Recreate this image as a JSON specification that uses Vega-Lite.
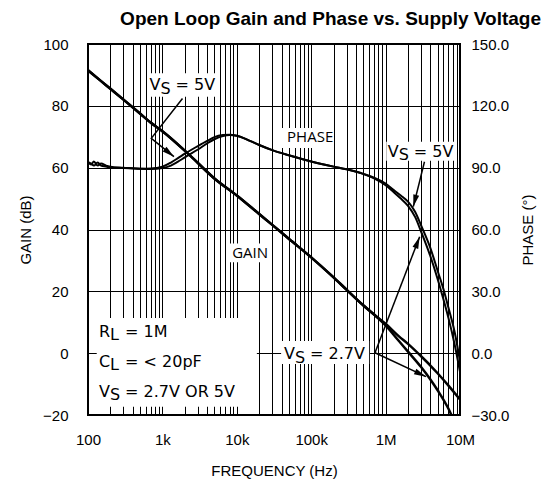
{
  "$schema": "https://vega.github.io/schema/vega-lite/v6.json",
  "width": 372,
  "height": 371,
  "autosize": "none",
  "padding": {"left": 88, "top": 44, "right": 95, "bottom": 68},
  "background": "white",
  "title": {"text": "Open Loop Gain and Phase vs. Supply Voltage", "font": "Liberation Sans", "fontSize": 19, "fontWeight": "bold", "anchor": "end", "frame": "group", "dx": 81, "offset": 8, "color": "black"},
  "config": {
    "view": {"stroke": "black", "strokeWidth": 2},
    "axis": {"labelFont": "Liberation Sans", "titleFont": "Liberation Sans", "labelFontSize": 15, "titleFontSize": 15, "titleFontWeight": "normal", "labelColor": "black", "titleColor": "black", "gridColor": "black", "gridOpacity": 1, "gridWidth": 1, "domain": false, "ticks": false, "tickSize": 0}
  },
  "datasets": {
    "gain": [
      {"f": 100, "g": 91.5, "v": "5V"}, {"f": 150, "g": 88, "v": "5V"}, {"f": 200, "g": 85.5, "v": "5V"}, {"f": 300, "g": 82, "v": "5V"}, {"f": 500, "g": 77.5, "v": "5V"}, {"f": 700, "g": 74.5, "v": "5V"}, {"f": 1000, "g": 71.8, "v": "5V"}, {"f": 2000, "g": 65.5, "v": "5V"}, {"f": 3000, "g": 61.5, "v": "5V"}, {"f": 5000, "g": 56.5, "v": "5V"}, {"f": 10000, "g": 51, "v": "5V"}, {"f": 20000, "g": 45, "v": "5V"}, {"f": 30000, "g": 41.5, "v": "5V"}, {"f": 50000, "g": 37, "v": "5V"}, {"f": 100000, "g": 31, "v": "5V"}, {"f": 200000, "g": 24.5, "v": "5V"}, {"f": 300000, "g": 20.5, "v": "5V"}, {"f": 500000, "g": 15.5, "v": "5V"}, {"f": 700000, "g": 12.5, "v": "5V"}, {"f": 1000000, "g": 9.5, "v": "5V"}, {"f": 1500000, "g": 5.5, "v": "5V"}, {"f": 2000000, "g": 3, "v": "5V"}, {"f": 3000000, "g": -1, "v": "5V"}, {"f": 4000000, "g": -4, "v": "5V"}, {"f": 5000000, "g": -6.5, "v": "5V"}, {"f": 7000000, "g": -10.5, "v": "5V"}, {"f": 10000000, "g": -15, "v": "5V"},
      {"f": 100, "g": 91.5, "v": "2.7V"}, {"f": 150, "g": 88, "v": "2.7V"}, {"f": 200, "g": 85.5, "v": "2.7V"}, {"f": 300, "g": 82, "v": "2.7V"}, {"f": 500, "g": 77.5, "v": "2.7V"}, {"f": 700, "g": 74.5, "v": "2.7V"}, {"f": 1000, "g": 71.8, "v": "2.7V"}, {"f": 2000, "g": 65.5, "v": "2.7V"}, {"f": 3000, "g": 61.5, "v": "2.7V"}, {"f": 5000, "g": 56.5, "v": "2.7V"}, {"f": 10000, "g": 51, "v": "2.7V"}, {"f": 20000, "g": 45, "v": "2.7V"}, {"f": 30000, "g": 41.5, "v": "2.7V"}, {"f": 50000, "g": 37, "v": "2.7V"}, {"f": 100000, "g": 31, "v": "2.7V"}, {"f": 200000, "g": 24.5, "v": "2.7V"}, {"f": 300000, "g": 20.5, "v": "2.7V"}, {"f": 500000, "g": 15.5, "v": "2.7V"}, {"f": 700000, "g": 12.5, "v": "2.7V"}, {"f": 1000000, "g": 9, "v": "2.7V"}, {"f": 1500000, "g": 4, "v": "2.7V"}, {"f": 2000000, "g": 0.5, "v": "2.7V"}, {"f": 3000000, "g": -4.5, "v": "2.7V"}, {"f": 4000000, "g": -8.5, "v": "2.7V"}, {"f": 5000000, "g": -12, "v": "2.7V"}, {"f": 7000000, "g": -18, "v": "2.7V"}, {"f": 8000000, "g": -21, "v": "2.7V"}
    ],
    "phase": [
      {"f": 100, "p": 93, "v": "5V"}, {"f": 110, "p": 91.5, "v": "5V"}, {"f": 120, "p": 93, "v": "5V"}, {"f": 135, "p": 91, "v": "5V"}, {"f": 150, "p": 92, "v": "5V"}, {"f": 175, "p": 91, "v": "5V"}, {"f": 200, "p": 90.5, "v": "5V"}, {"f": 300, "p": 90, "v": "5V"}, {"f": 500, "p": 89.5, "v": "5V"}, {"f": 700, "p": 89.6, "v": "5V"}, {"f": 1000, "p": 90.5, "v": "5V"}, {"f": 1300, "p": 92.5, "v": "5V"}, {"f": 1600, "p": 94.5, "v": "5V"}, {"f": 2000, "p": 96.8, "v": "5V"}, {"f": 3000, "p": 100.5, "v": "5V"}, {"f": 4000, "p": 103, "v": "5V"}, {"f": 5000, "p": 104.8, "v": "5V"}, {"f": 6500, "p": 105.8, "v": "5V"}, {"f": 8000, "p": 106, "v": "5V"}, {"f": 10000, "p": 105.5, "v": "5V"}, {"f": 15000, "p": 103, "v": "5V"}, {"f": 20000, "p": 101, "v": "5V"}, {"f": 30000, "p": 98.5, "v": "5V"}, {"f": 50000, "p": 96, "v": "5V"}, {"f": 100000, "p": 93, "v": "5V"}, {"f": 200000, "p": 90.5, "v": "5V"}, {"f": 300000, "p": 89.2, "v": "5V"}, {"f": 500000, "p": 87, "v": "5V"}, {"f": 700000, "p": 84.8, "v": "5V"}, {"f": 1000000, "p": 81.5, "v": "5V"}, {"f": 1300000, "p": 78, "v": "5V"}, {"f": 1600000, "p": 75, "v": "5V"}, {"f": 2000000, "p": 71.5, "v": "5V"}, {"f": 2500000, "p": 66, "v": "5V"}, {"f": 3000000, "p": 59, "v": "5V"}, {"f": 4000000, "p": 47, "v": "5V"}, {"f": 5000000, "p": 36, "v": "5V"}, {"f": 6000000, "p": 26, "v": "5V"}, {"f": 7000000, "p": 17, "v": "5V"}, {"f": 8500000, "p": 4, "v": "5V"}, {"f": 10000000, "p": -9, "v": "5V"},
      {"f": 100, "p": 92.5, "v": "2.7V"}, {"f": 110, "p": 92, "v": "2.7V"}, {"f": 120, "p": 91, "v": "2.7V"}, {"f": 135, "p": 92.5, "v": "2.7V"}, {"f": 150, "p": 91, "v": "2.7V"}, {"f": 175, "p": 90.5, "v": "2.7V"}, {"f": 200, "p": 90, "v": "2.7V"}, {"f": 300, "p": 89.8, "v": "2.7V"}, {"f": 500, "p": 89.5, "v": "2.7V"}, {"f": 700, "p": 89.4, "v": "2.7V"}, {"f": 1000, "p": 89.8, "v": "2.7V"}, {"f": 1300, "p": 91, "v": "2.7V"}, {"f": 1600, "p": 92.8, "v": "2.7V"}, {"f": 2000, "p": 95, "v": "2.7V"}, {"f": 3000, "p": 98.8, "v": "2.7V"}, {"f": 4000, "p": 101.8, "v": "2.7V"}, {"f": 5000, "p": 103.8, "v": "2.7V"}, {"f": 6500, "p": 105.3, "v": "2.7V"}, {"f": 8000, "p": 105.8, "v": "2.7V"}, {"f": 10000, "p": 105.5, "v": "2.7V"}, {"f": 15000, "p": 103, "v": "2.7V"}, {"f": 20000, "p": 101, "v": "2.7V"}, {"f": 30000, "p": 98.5, "v": "2.7V"}, {"f": 50000, "p": 96, "v": "2.7V"}, {"f": 100000, "p": 93, "v": "2.7V"}, {"f": 200000, "p": 90.5, "v": "2.7V"}, {"f": 300000, "p": 89.2, "v": "2.7V"}, {"f": 500000, "p": 87, "v": "2.7V"}, {"f": 700000, "p": 85.2, "v": "2.7V"}, {"f": 1000000, "p": 82.3, "v": "2.7V"}, {"f": 1300000, "p": 79, "v": "2.7V"}, {"f": 1600000, "p": 76.5, "v": "2.7V"}, {"f": 2000000, "p": 73.5, "v": "2.7V"}, {"f": 2500000, "p": 68.5, "v": "2.7V"}, {"f": 3000000, "p": 62, "v": "2.7V"}, {"f": 4000000, "p": 51, "v": "2.7V"}, {"f": 5000000, "p": 40, "v": "2.7V"}, {"f": 6000000, "p": 31, "v": "2.7V"}, {"f": 7000000, "p": 22, "v": "2.7V"}, {"f": 8500000, "p": 10, "v": "2.7V"}, {"f": 10000000, "p": -4, "v": "2.7V"}
    ],
    "boxes": [
      {"f": 631, "f2": 5900, "g": 82.95, "g2": 90.5},
      {"f": 1020000, "f2": 8470000, "g": 62.2, "g2": 68.4},
      {"f": 39400, "f2": 601000, "g": -3.5, "g2": 3.94},
      {"f": 39400, "f2": 197000, "g": 66.36, "g2": 72.83},
      {"f": 7940, "f2": 28800, "g": 29.4, "g2": 35.5},
      {"f": 131, "f2": 18600, "g": -17.3, "g2": 11.37}
    ],
    "notes": [
      {"f": 670, "g": 85.1, "a": "V", "s": "S", "r": "= 5V"},
      {"f": 1070000, "g": 63.5, "a": "V", "s": "S", "r": "= 5V"},
      {"f": 43100, "g": -1.9, "a": "V", "s": "S", "r": "= 2.7V"},
      {"f": 141, "g": 5.3, "a": "R", "s": "L", "r": "= 1M"},
      {"f": 141, "g": -4.4, "a": "C", "s": "L", "r": "= < 20pF"},
      {"f": 141, "g": -14.1, "a": "V", "s": "S", "r": "= 2.7V OR 5V"}
    ],
    "words": [
      {"f": 96800, "g": 69.9, "t": "PHASE"},
      {"f": 15100, "g": 32.56, "t": "GAIN"}
    ],
    "arrows": [
      {"id": "a1", "k": 1, "f": 1862, "g": 82.4}, {"id": "a1", "k": 2, "f": 709, "g": 69.5}, {"id": "a1", "k": 3, "f": 1429, "g": 63.55},
      {"id": "a2", "k": 1, "f": 3330000, "g": 61.93}, {"id": "a2", "k": 2, "f": 2360000, "g": 47.4},
      {"id": "a3", "k": 1, "f": 720000, "g": 0.15}, {"id": "a3", "k": 2, "f": 2870000, "g": 37.67},
      {"id": "a4", "k": 1, "f": 720000, "g": 0.15}, {"id": "a4", "k": 2, "f": 3490000, "g": -7.6}
    ],
    "heads": [
      {"id": "a1", "f": 1429, "g": 63.55},
      {"id": "a2", "f": 2360000, "g": 47.4},
      {"id": "a3", "f": 2870000, "g": 37.67},
      {"id": "a4", "f": 3490000, "g": -7.6}
    ]
  },
  "encoding": {
    "x": {
      "field": "f", "type": "quantitative", "title": "FREQUENCY (Hz)",
      "scale": {"type": "log", "domain": [100, 10000000], "nice": false},
      "axis": {
        "values": [100,200,300,400,500,600,700,800,900,1000,2000,3000,4000,5000,6000,7000,8000,9000,10000,20000,30000,40000,50000,60000,70000,80000,90000,100000,200000,300000,400000,500000,600000,700000,800000,900000,1000000,2000000,3000000,4000000,5000000,6000000,7000000,8000000,9000000,10000000],
        "labelExpr": "datum.value == 100 ? '100' : datum.value == 1000 ? '1k' : datum.value == 10000 ? '10k' : datum.value == 100000 ? '100k' : datum.value == 1000000 ? '1M' : datum.value == 10000000 ? '10M' : ''",
        "labelOverlap": false, "labelFlush": false, "labelBound": false, "grid": true, "labelPadding": 17, "titlePadding": 16
      }
    }
  },
  "layer": [
    {
      "encoding": {
        "y": {"field": "g", "type": "quantitative", "title": "GAIN (dB)", "scale": {"domain": [-20, 100], "nice": false, "zero": false},
          "axis": {"orient": "left", "values": [-20, 0, 20, 40, 60, 80, 100], "grid": true, "labelPadding": 20, "titlePadding": 9}}
      },
      "layer": [
        {"data": {"name": "boxes"}, "mark": {"type": "rect", "fill": "white", "stroke": null}, "encoding": {"x2": {"field": "f2"}, "y2": {"field": "g2"}}},
        {"data": {"name": "gain"}, "mark": {"type": "line", "color": "black", "strokeWidth": 2.5, "clip": true, "interpolate": "monotone"}, "encoding": {"detail": {"field": "v"}}}
      ]
    },
    {
      "data": {"name": "phase"},
      "mark": {"type": "line", "color": "black", "strokeWidth": 2, "clip": true, "interpolate": "monotone"},
      "encoding": {
        "y": {"field": "p", "type": "quantitative", "title": "PHASE (°)", "scale": {"domain": [-30, 150], "nice": false, "zero": false},
          "axis": {"orient": "right", "values": [-30, 0, 30, 60, 90, 120, 150], "format": ".1f", "grid": false, "labelPadding": 11, "titlePadding": 27, "titleAngle": 270}},
        "detail": {"field": "v"}
      }
    },
    {
      "encoding": {
        "y": {"field": "g", "type": "quantitative", "scale": {"domain": [-20, 100], "nice": false, "zero": false}, "axis": null}
      },
      "layer": [
        {"data": {"name": "arrows"}, "mark": {"type": "line", "color": "black", "strokeWidth": 1.5}, "encoding": {"detail": {"field": "id"}, "order": {"field": "k"}}},
        {"data": {"name": "heads"}, "transform": [{"filter": "datum.id == 'a1'"}], "mark": {"type": "point", "shape": "M0,0L0.6,2.4L-0.6,2.4Z", "filled": true, "color": "black", "opacity": 1, "size": 100, "angle": 129}},
        {"data": {"name": "heads"}, "transform": [{"filter": "datum.id == 'a2'"}], "mark": {"type": "point", "shape": "M0,0L0.6,2.4L-0.6,2.4Z", "filled": true, "color": "black", "opacity": 1, "size": 100, "angle": 194}},
        {"data": {"name": "heads"}, "transform": [{"filter": "datum.id == 'a3'"}], "mark": {"type": "point", "shape": "M0,0L0.6,2.4L-0.6,2.4Z", "filled": true, "color": "black", "opacity": 1, "size": 100, "angle": 21}},
        {"data": {"name": "heads"}, "transform": [{"filter": "datum.id == 'a4'"}], "mark": {"type": "point", "shape": "M0,0L0.6,2.4L-0.6,2.4Z", "filled": true, "color": "black", "opacity": 1, "size": 100, "angle": 115}},
        {"data": {"name": "notes"}, "mark": {"type": "text", "align": "left", "baseline": "alphabetic", "font": "DejaVu Sans", "fontSize": 16, "color": "black"}, "encoding": {"text": {"field": "a"}}},
        {"data": {"name": "notes"}, "mark": {"type": "text", "align": "left", "baseline": "alphabetic", "font": "DejaVu Sans", "fontSize": 16, "color": "black", "dx": 11, "dy": 3.5}, "encoding": {"text": {"field": "s"}}},
        {"data": {"name": "notes"}, "mark": {"type": "text", "align": "left", "baseline": "alphabetic", "font": "DejaVu Sans", "fontSize": 16, "color": "black", "dx": 26}, "encoding": {"text": {"field": "r"}}},
        {"data": {"name": "words"}, "mark": {"type": "text", "align": "center", "baseline": "middle", "font": "Open Sans", "fontSize": 15, "color": "black"}, "encoding": {"text": {"field": "t"}}}
      ]
    }
  ],
  "resolve": {"scale": {"y": "independent"}, "axis": {"y": "independent"}}
}
